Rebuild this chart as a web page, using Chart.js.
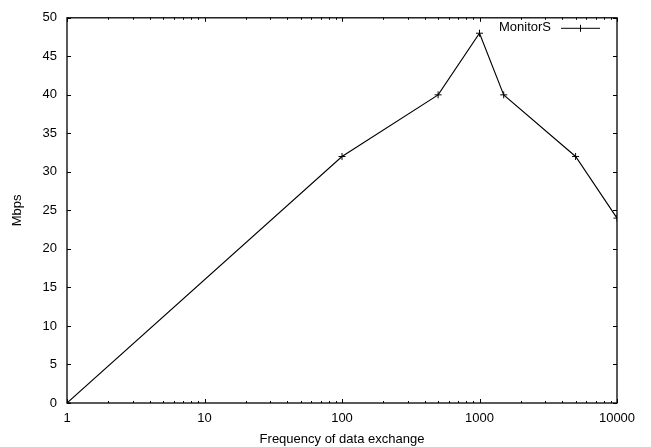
<!DOCTYPE html>
<html><head><meta charset="utf-8">
<script src="https://cdn.jsdelivr.net/npm/chart.js@4"></script>
<style>html,body{margin:0;padding:0;background:#fff}#wrap{width:651px;height:447px}</style>
</head><body><div id="wrap"><canvas id="c" width="651" height="447"></canvas></div>
<script>
const frequencies = [1, 100, 500, 1000, 1500, 5000, 10000];
const mbps = [0, 32, 40, 48, 40, 32, 24];
const seriesName = 'MonitorS';
const xMajorTicks = [1, 10, 100, 1000, 10000];
const yTicks = [0, 5, 10, 15, 20, 25, 30, 35, 40, 45, 50];
const xTitle = 'Frequency of data exchange';
const yTitle = 'Mbps';
const FONT = "'Liberation Sans', Arial, sans-serif";

const gnuplotFrame = {
  id: 'gnuplotFrame',
  afterDatasetsDraw(chart) {
    const ctx = chart.ctx, a = chart.chartArea;
    const xs = chart.scales.x, ys = chart.scales.y;
    ctx.save();
    ctx.strokeStyle = '#000';
    ctx.lineWidth = 1;
    ctx.beginPath();
    yTicks.forEach(v => {
      const p = Math.round(ys.getPixelForValue(v)) + 0.5;
      ctx.moveTo(a.left, p); ctx.lineTo(a.left + 4, p);
      ctx.moveTo(a.right, p); ctx.lineTo(a.right - 4, p);
    });
    for (let d = 1; d <= 10000; d *= 10) {
      for (let m = 1; m <= 9; m++) {
        const v = d * m;
        if (v > 10000) break;
        const p = Math.round(xs.getPixelForValue(v)) + 0.5;
        const len = m === 1 ? 4 : 2;
        ctx.moveTo(p, a.bottom); ctx.lineTo(p, a.bottom - len);
        ctx.moveTo(p, a.top); ctx.lineTo(p, a.top + len);
      }
    }
    ctx.stroke();
    ctx.lineWidth = 1.3;
    ctx.strokeRect(a.left, a.top, a.right - a.left, a.bottom - a.top);
    ctx.font = '13px ' + FONT;
    ctx.fillStyle = '#000';
    ctx.textAlign = 'right';
    ctx.textBaseline = 'middle';
    const ly = a.top + 10;
    ctx.fillText(seriesName, 551, ly);
    ctx.lineWidth = 1;
    ctx.beginPath();
    ctx.moveTo(561, ly + 0.5); ctx.lineTo(600, ly + 0.5);
    ctx.moveTo(580.5, ly - 3); ctx.lineTo(580.5, ly + 4);
    ctx.stroke();
    ctx.restore();
  }
};

new Chart(document.getElementById('c'), {
  type: 'line',
  data: {
    datasets: [{
      label: seriesName,
      data: frequencies.map((f, i) => ({x: f, y: mbps[i]})),
      borderColor: '#000',
      borderWidth: 1.1,
      pointStyle: 'cross',
      pointRadius: 3.5,
      pointBorderColor: '#000',
      pointBorderWidth: 1,
      tension: 0,
      fill: false
    }]
  },
  options: {
    responsive: false,
    animation: false,
    devicePixelRatio: 1,
    layout: {padding: {top: 17, right: 34, left: 0, bottom: 0}},
    plugins: {legend: {display: false}, tooltip: {enabled: false}},
    scales: {
      x: {
        type: 'logarithmic', min: 1, max: 10000,
        afterBuildTicks: s => { s.ticks = xMajorTicks.map(v => ({value: v})); },
        afterFit: s => { s.height = 44; },
        grid: {display: false, drawTicks: false},
        border: {display: false},
        ticks: {color: '#000', font: {family: FONT, size: 13}, padding: 8, maxRotation: 0,
                callback: v => String(v)},
        title: {display: true, text: xTitle, color: '#000', font: {family: FONT, size: 13}, padding: {top: 1, bottom: 0}}
      },
      y: {
        min: 0, max: 50,
        afterBuildTicks: s => { s.ticks = yTicks.map(v => ({value: v})); },
        afterFit: s => { s.width = 67; },
        grid: {display: false, drawTicks: false},
        border: {display: false},
        ticks: {color: '#000', font: {family: FONT, size: 13}, padding: 10},
        title: {display: true, text: yTitle, color: '#000', font: {family: FONT, size: 13}, padding: {top: 10, bottom: 4}}
      }
    }
  },
  plugins: [gnuplotFrame]
});
</script>
</body></html>
